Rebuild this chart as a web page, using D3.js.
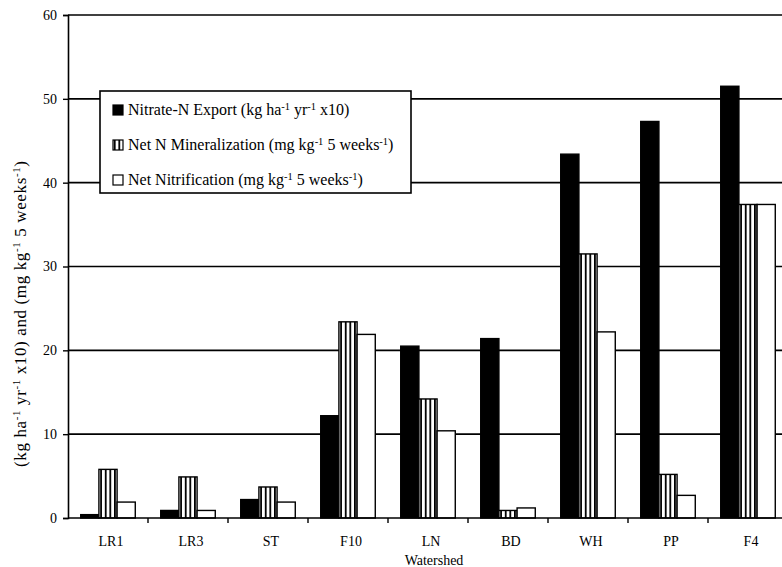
<!DOCTYPE html>
<html>
<head>
<meta charset="utf-8">
<script src="https://cdn.jsdelivr.net/npm/d3@7"></script>
<style>
  body { margin: 0; background: #fff; }
</style>
</head>
<body>
<div id="chart"></div>
<script>
// watershed N data
const categories    = ["LR1", "LR3", "ST", "F10", "LN", "BD", "WH", "PP", "F4"];
const nitrateExport = [0.4, 0.9, 2.2, 12.2, 20.5, 21.4, 43.4, 47.3, 51.5];
const netMineral    = [5.8, 4.9, 3.7, 23.4, 14.2, 0.9, 31.5, 5.2, 37.4];
const netNitrif     = [1.9, 0.9, 1.9, 21.9, 10.4, 1.2, 22.2, 2.7, 37.4];
const yTicks        = [0, 10, 20, 30, 40, 50, 60];

const seriesKeys = ["export", "mineral", "nitrif"];
const seriesVals = { export: nitrateExport, mineral: netMineral, nitrif: netNitrif };

const FONT = "'Liberation Serif', 'Times New Roman', 'DejaVu Serif', serif";

const W = 782, H = 567;
const plot = { left: 68, right: 788, top: 15, bottom: 518 };

const svg = d3.select("#chart").append("svg")
  .attr("width", W).attr("height", H)
  .style("font-family", FONT);

// vertical stripe pattern
const defs = svg.append("defs");
const pat = defs.append("pattern")
  .attr("id", "stripes")
  .attr("patternUnits", "userSpaceOnUse")
  .attr("width", 4.6).attr("height", 10);
pat.append("rect").attr("width", 4.6).attr("height", 10).attr("fill", "#fff");
pat.append("rect").attr("x", 0).attr("width", 1.8).attr("height", 10).attr("fill", "#000");

const fills = { export: "#000", mineral: "url(#stripes)", nitrif: "#fff" };

const x0 = d3.scaleBand().domain(categories).range([plot.left, plot.right]).padding(0);
const x1 = d3.scaleBand().domain(seriesKeys).range([0, x0.bandwidth()])
  .paddingInner(0).paddingOuter(0.7);
const y = d3.scaleLinear().domain([0, 60]).range([plot.bottom, plot.top]);

// grid
svg.append("g")
  .selectAll("line")
  .data(yTicks.filter(d => d > 0))
  .join("line")
  .attr("x1", plot.left).attr("x2", W)
  .attr("y1", d => y(d)).attr("y2", d => y(d))
  .attr("stroke", "#000").attr("stroke-width", 1.6);

// bars
const rows = categories.map((c, i) => ({ cat: c, vals: seriesKeys.map(k => ({ key: k, v: seriesVals[k][i] })) }));
svg.append("g")
  .selectAll("g")
  .data(rows)
  .join("g")
  .attr("transform", d => `translate(${x0(d.cat)},0)`)
  .selectAll("rect")
  .data(d => d.vals)
  .join("rect")
  .attr("x", d => x1(d.key))
  .attr("width", x1.bandwidth())
  .attr("y", d => y(d.v))
  .attr("height", d => y(0) - y(d.v))
  .attr("fill", d => fills[d.key])
  .attr("stroke", "#000")
  .attr("stroke-width", 1.4);

// y axis
const yAxis = svg.append("g")
  .attr("transform", `translate(${plot.left},0)`)
  .call(d3.axisLeft(y).tickValues(yTicks).tickSize(5).tickPadding(6))
  .attr("font-family", FONT);
yAxis.select(".domain").attr("stroke-width", 1.6);
yAxis.selectAll(".tick line").attr("stroke-width", 1.4);
yAxis.selectAll("text").attr("font-size", 14).attr("fill", "#000");

// x axis: ticks at category boundaries
const xAxis = svg.append("g")
  .attr("transform", `translate(0,${plot.bottom})`);
xAxis.append("line")
  .attr("x1", plot.left).attr("x2", W)
  .attr("stroke", "#000").attr("stroke-width", 1.6);
xAxis.selectAll(".bt")
  .data(categories)
  .join("line")
  .attr("class", "bt")
  .attr("x1", d => x0(d) + x0.bandwidth()).attr("x2", d => x0(d) + x0.bandwidth())
  .attr("y1", 0).attr("y2", 5)
  .attr("stroke", "#000").attr("stroke-width", 1.4);
xAxis.selectAll(".lbl")
  .data(categories)
  .join("text")
  .attr("class", "lbl")
  .attr("x", d => x0(d) + x0.bandwidth() / 2 + 3)
  .attr("y", 28)
  .attr("text-anchor", "middle")
  .attr("font-size", 14)
  .text(d => d);

svg.append("text")
  .attr("x", 434).attr("y", 565)
  .attr("text-anchor", "middle")
  .attr("font-size", 14)
  .text("Watershed");

// text with superscript -1 pieces
function richText(sel, parts, supSize) {
  parts.forEach(p => {
    if (p.sup) {
      sel.append("tspan").attr("font-size", supSize).attr("baseline-shift", "super").text(p.sup);
    } else {
      sel.append("tspan").text(p.t);
    }
  });
}

const yLabel = svg.append("text")
  .attr("transform", `translate(26,314) rotate(-90)`)
  .attr("text-anchor", "middle")
  .attr("font-size", 17)
  .attr("textLength", 306)
  .attr("lengthAdjust", "spacing");
richText(yLabel, [
  { t: "(kg ha" }, { sup: "-1" }, { t: " yr" }, { sup: "-1" }, { t: " x10) and (mg kg" },
  { sup: "-1" }, { t: " 5 weeks" }, { sup: "-1" }, { t: ")" }
], 11);

// legend
const lg = svg.append("g").attr("transform", "translate(100,91)");
lg.append("rect")
  .attr("width", 311).attr("height", 102)
  .attr("fill", "#fff").attr("stroke", "#000").attr("stroke-width", 1.6);

const legendItems = [
  { key: "export", parts: [{ t: "Nitrate-N Export (kg ha" }, { sup: "-1" }, { t: " yr" }, { sup: "-1" }, { t: " x10)" }] },
  { key: "mineral", parts: [{ t: "Net N Mineralization (mg kg" }, { sup: "-1" }, { t: " 5 weeks" }, { sup: "-1" }, { t: ")" }] },
  { key: "nitrif", parts: [{ t: "Net Nitrification (mg kg" }, { sup: "-1" }, { t: " 5 weeks" }, { sup: "-1" }, { t: ")" }] }
];
legendItems.forEach((it, i) => {
  const gy = 19 + i * 35;
  lg.append("rect")
    .attr("x", 13).attr("y", gy - 5)
    .attr("width", 10).attr("height", 10)
    .attr("fill", fills[it.key])
    .attr("stroke", "#000").attr("stroke-width", 1.2);
  const t = lg.append("text")
    .attr("x", 28).attr("y", gy + 5)
    .attr("font-size", 16);
  richText(t, it.parts, 10.5);
});
</script>
</body>
</html>
